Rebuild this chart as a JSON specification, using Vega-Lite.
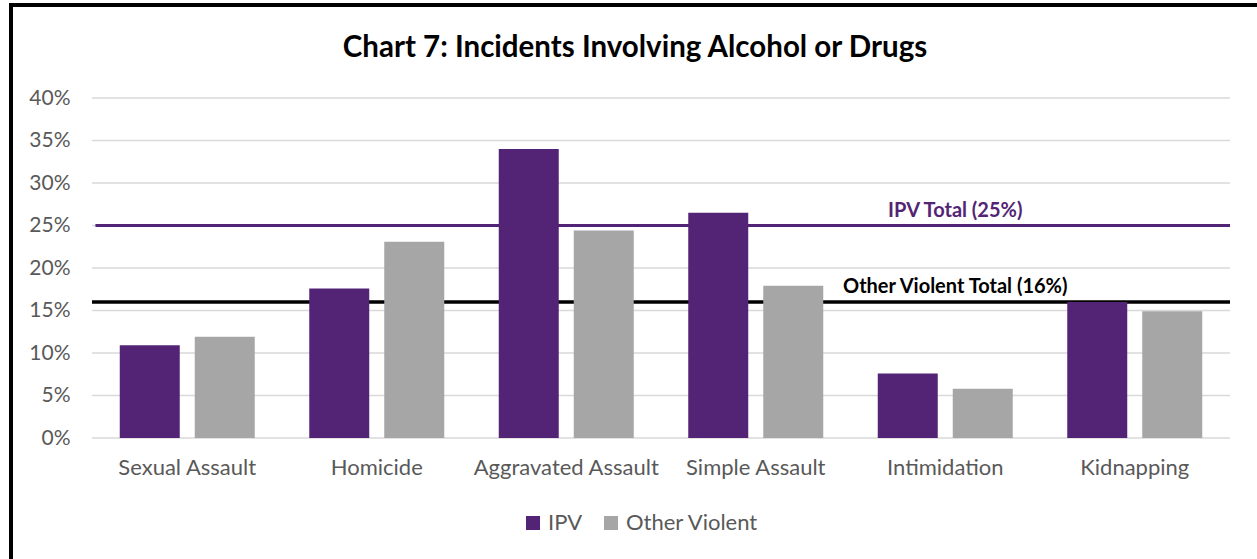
{
  "$schema": "https://vega.github.io/schema/vega-lite/v6.json",
  "width": 1254,
  "height": 562,
  "autosize": {"type": "none"},
  "padding": {"left": 11, "top": 5, "right": -8, "bottom": -8},
  "background": "white",
  "config": {"view": {"stroke": "black", "strokeWidth": 4}, "font": "Lato"},
  "title": {"text": "Chart 7: Incidents Involving Alcohol or Drugs", "font": "Lato", "fontSize": 29.5, "fontWeight": "bold", "color": "black", "anchor": "middle", "offset": -58, "dx": -3},
  "datasets": {
    "bars": [
      {"category": "Sexual Assault", "series": "IPV", "value": 0.109},
      {"category": "Sexual Assault", "series": "Other Violent", "value": 0.119},
      {"category": "Homicide", "series": "IPV", "value": 0.176},
      {"category": "Homicide", "series": "Other Violent", "value": 0.231},
      {"category": "Aggravated Assault", "series": "IPV", "value": 0.340},
      {"category": "Aggravated Assault", "series": "Other Violent", "value": 0.244},
      {"category": "Simple Assault", "series": "IPV", "value": 0.265},
      {"category": "Simple Assault", "series": "Other Violent", "value": 0.179},
      {"category": "Intimidation", "series": "IPV", "value": 0.076},
      {"category": "Intimidation", "series": "Other Violent", "value": 0.058},
      {"category": "Kidnapping", "series": "IPV", "value": 0.160},
      {"category": "Kidnapping", "series": "Other Violent", "value": 0.149}
    ],
    "grid": [{"v": 0}, {"v": 0.05}, {"v": 0.1}, {"v": 0.15}, {"v": 0.2}, {"v": 0.25}, {"v": 0.3}, {"v": 0.35}, {"v": 0.4}],
    "totals": [
      {"series": "IPV", "label": "IPV Total (25%)", "v": 0.25},
      {"series": "Other Violent", "label": "Other Violent Total (16%)", "v": 0.16}
    ]
  },
  "layer": [
    {
      "layer": [
        {
          "data": {"name": "grid"},
          "mark": {"type": "rule", "color": "#d9d9d9", "strokeWidth": 1.3},
          "encoding": {
            "y": {
              "field": "v", "type": "quantitative",
              "scale": {"domain": [0, 0.4], "range": [433, 93], "nice": false},
              "axis": {"title": null, "format": ".0%", "values": [0, 0.05, 0.1, 0.15, 0.2, 0.25, 0.3, 0.35, 0.4], "grid": false, "domain": false, "ticks": false, "offset": -67, "labelPadding": 8, "labelFontSize": 21, "labelColor": "#595959", "labelFont": "Lato", "zindex": 2}
            },
            "x": {"datum": 0, "type": "quantitative", "scale": {"domain": [0, 1], "range": [81, 1219]}, "axis": null},
            "x2": {"datum": 1}
          }
        },
        {
          "data": {"name": "totals"},
          "transform": [{"filter": "datum.series === 'IPV'"}],
          "mark": {"type": "rule", "color": "#532476", "strokeWidth": 3},
          "encoding": {
            "y": {"field": "v", "type": "quantitative"},
            "x": {"datum": 0.003, "type": "quantitative", "axis": null},
            "x2": {"datum": 1}
          }
        },
        {
          "data": {"name": "totals"},
          "transform": [{"filter": "datum.series === 'Other Violent'"}],
          "mark": {"type": "rule", "color": "black", "strokeWidth": 3.5},
          "encoding": {
            "y": {"field": "v", "type": "quantitative"},
            "x": {"datum": 0, "type": "quantitative", "axis": null},
            "x2": {"datum": 1}
          }
        }
      ]
    },
    {
      "layer": [
        {
          "data": {"name": "bars"},
          "mark": {"type": "bar"},
          "encoding": {
            "x": {
              "field": "category", "type": "nominal",
              "scale": {"domain": ["Sexual Assault", "Homicide", "Aggravated Assault", "Simple Assault", "Intimidation", "Kidnapping"], "range": [81.5, 1218.5], "paddingInner": 0.2876, "paddingOuter": 0.1438},
              "axis": {"title": null, "labelAngle": 0, "domain": false, "ticks": false, "offset": -129, "labelPadding": 19, "labelFontSize": 22, "labelColor": "#595959", "labelFont": "Lato", "labelLimit": 300}
            },
            "xOffset": {"field": "series", "type": "nominal", "scale": {"domain": ["IPV", "Other Violent"], "paddingInner": 0.2, "paddingOuter": 0}},
            "y": {"field": "value", "type": "quantitative"},
            "color": {
              "field": "series", "type": "nominal",
              "scale": {"domain": ["IPV", "Other Violent"], "range": ["#532476", "#a6a6a6"]},
              "legend": {"title": null, "orient": "none", "legendX": 511, "legendY": 507, "direction": "horizontal", "symbolType": "square", "symbolSize": 196, "symbolStrokeWidth": 0, "labelFontSize": 22, "labelColor": "#595959", "labelFont": "Lato", "columnPadding": 17, "labelOffset": 4, "labelLimit": 300}
            }
          }
        },
        {
          "data": {"name": "totals"},
          "transform": [{"filter": "datum.series === 'IPV'"}],
          "mark": {"type": "text", "color": "#532476", "fontWeight": "bold", "fontSize": 20, "font": "Lato", "baseline": "alphabetic", "align": "center", "dx": 10, "dy": -9},
          "encoding": {
            "x": {"datum": "Intimidation", "type": "nominal"},
            "y": {"field": "v", "type": "quantitative"},
            "text": {"field": "label"}
          }
        },
        {
          "data": {"name": "totals"},
          "transform": [{"filter": "datum.series === 'Other Violent'"}],
          "mark": {"type": "text", "color": "black", "fontWeight": "bold", "fontSize": 20, "font": "Lato", "baseline": "alphabetic", "align": "center", "dx": 10, "dy": -9},
          "encoding": {
            "x": {"datum": "Intimidation", "type": "nominal"},
            "y": {"field": "v", "type": "quantitative"},
            "text": {"field": "label"}
          }
        }
      ]
    }
  ],
  "resolve": {"scale": {"x": "independent"}}
}
